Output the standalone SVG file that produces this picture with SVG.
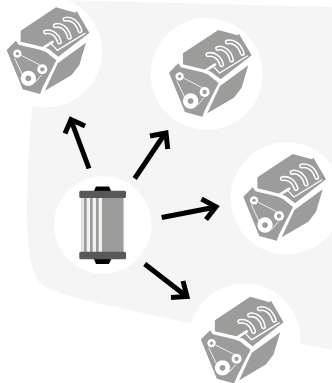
<svg xmlns="http://www.w3.org/2000/svg" width="332" height="383" viewBox="0 0 332 383">
<style>
.halo{fill:#fff}
.g{fill:#9c9c9b}
.w{fill:none;stroke:#fff;stroke-linecap:round;stroke-linejoin:round}
.fg{fill:none;stroke:#9c9c9b;stroke-linecap:round;stroke-linejoin:round}
.arrow{fill:none;stroke:#000;stroke-width:5;stroke-linejoin:miter}
.cap{fill:#585858}
</style>
<defs>
<g id="engine" transform="scale(.3333)">
<path class="g" d="M62 92L168 22L226 38L230 33L268 98L175 170L146 147L120 139L62 125Z"/>
<path class="w" stroke-width="4" d="M150 128L172 151L255 100"/>
<path class="w" stroke-width="8" d="M120 150L158 126"/>
<path class="w" stroke-width="15" d="M137 96C152 92 172 102 178 126M166 77C182 73 202 84 208 112M195 58C214 54 232 66 240 92"/>
<path class="fg" stroke-width="6" d="M137 96C152 92 172 102 178 126M166 77C182 73 202 84 208 112M195 58C214 54 232 66 240 92"/>
<path class="g" d="M20 150L48 122L56 134L120 149L138 156L169 181L128 262L120 282L68 268Z"/>
<path class="g" d="M135 272L173 190L258 128L238 195L215 225Z"/>
<circle cx="52" cy="161" r="12.500" fill="#fff"/><circle cx="52" cy="161" r="5" class="g"/>
<circle cx="127" cy="208" r="15" fill="#fff"/><circle cx="127" cy="208" r="6.500" class="g"/>
<circle cx="85" cy="235" r="23" fill="#fff"/><circle cx="85" cy="235" r="8.500" class="g"/>
<path class="w" stroke-width="2.500" d="M65 167L118 194M44 175L66 222M106 247L124 226"/>
</g>
</defs>
<path id="background" fill="#f5f5f5" d="M60 0L332 7V350L190 323C130 310 50 295 40 283C30 270 27 240 27 215C27 170 30 130 33 100Z"/>
<g id="engine-1"><circle class="halo" cx="46" cy="51.500" r="56"/><use href="#engine"/></g>
<g id="engine-2"><circle class="halo" cx="206.700" cy="74" r="56"/><use href="#engine" x="162.300" y="22.700"/></g>
<g id="engine-3"><circle class="halo" cx="286.700" cy="198.300" r="56"/><use href="#engine" x="236.700" y="146.700"/></g>
<g id="engine-4"><circle class="halo" cx="244.500" cy="339.500" r="56"/><use href="#engine" x="194.200" y="289.500"/></g>
<g id="filter">
<circle class="halo" cx="102.700" cy="225" r="48.700"/>
<path d="M93.500 192L96 186.500H109L111.700 192V258L109 264H96L93.500 258Z" fill="#000"/>
<rect x="81.300" y="197" width="42.300" height="56" fill="#9c9c9b"/>
<path fill="#e6e6e6" d="M81.300 197h2.700v56h-2.700z"/>
<path fill="#f2f2f2" d="M86.700 197h3.300v56h-3.300zM92.700 197h3.300v56h-3.300zM98.700 197h3.300v56h-3.300z"/>
<rect class="cap" x="79.300" y="190.700" width="46.700" height="7.300" rx="1.500"/>
<rect class="cap" x="79.300" y="251.700" width="46.700" height="7.600" rx="1.500"/>
</g>
<g id="connectors">
<path class="arrow" d="M89 168.500L71 120M65 133.500L71 119.500L85 126"/>
<path class="arrow" d="M134.700 178.500L165 133.500M150 136L166 133L167.700 149"/>
<path class="arrow" d="M161.700 217.500L216 207M201.500 199L216 206.700L206 219.500"/>
<path class="arrow" d="M144.700 264L186 296M171 297.500L187 296.500L183 281"/>
</g>
</svg>
